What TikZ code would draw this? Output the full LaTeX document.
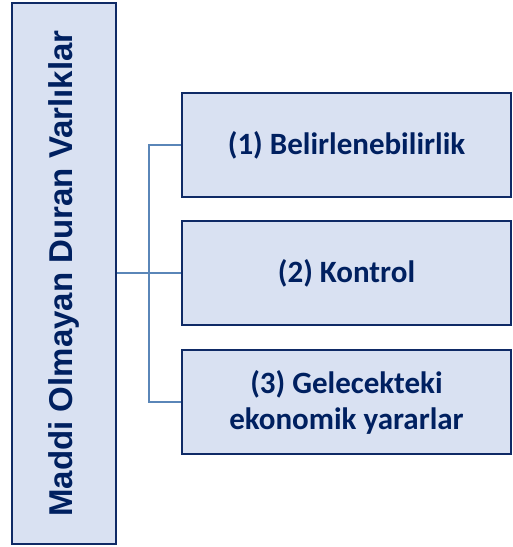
\documentclass[tikz,border=0pt]{standalone}
\usepackage{fontspec}
\setmainfont{Carlito}
\newfontfamily\titlefont{Liberation Sans}
\definecolor{boxfill}{HTML}{D9E1F2}
\definecolor{boxline}{HTML}{0F2A66}
\definecolor{boxtext}{HTML}{002060}
\definecolor{linkline}{HTML}{5A86B8}
\begin{document}
\begin{tikzpicture}[x=1pt,y=1pt,
    item/.style={draw=boxline,line width=2pt,fill=boxfill,text=boxtext,
        font=\fontsize{31}{36}\selectfont\bfseries,align=center,
        minimum width=329pt,minimum height=104pt,inner sep=0pt},
    link/.style={draw=linkline,line width=2pt}]
    \useasboundingbox (0,0) rectangle (513,547);
    % left box
    \node[item,minimum width=104pt,minimum height=541pt] (main) at (64,273.5) {};
    \node[text=boxtext,font=\titlefont\fontsize{33}{38}\selectfont\bfseries,rotate=90] (title) at (main.center) {Maddi Olmayan Duran Varlıklar};
    % right boxes
    \node[item] (crit1) at (346.5,402) {(1) Belirlenebilirlik};
    \node[item] (crit2) at (346.5,273.5) {(2) Kontrol};
    \node[item] (crit3) at (346.5,144.5) {(3) Gelecekteki\\ekonomik yararlar};
    % connectors
    \coordinate (split) at (149,273.5);
    \draw[link] (main.east) -- (crit2.west);
    \draw[link] (crit1.west) -| (split) |- (crit3.west);
\end{tikzpicture}
\end{document}
